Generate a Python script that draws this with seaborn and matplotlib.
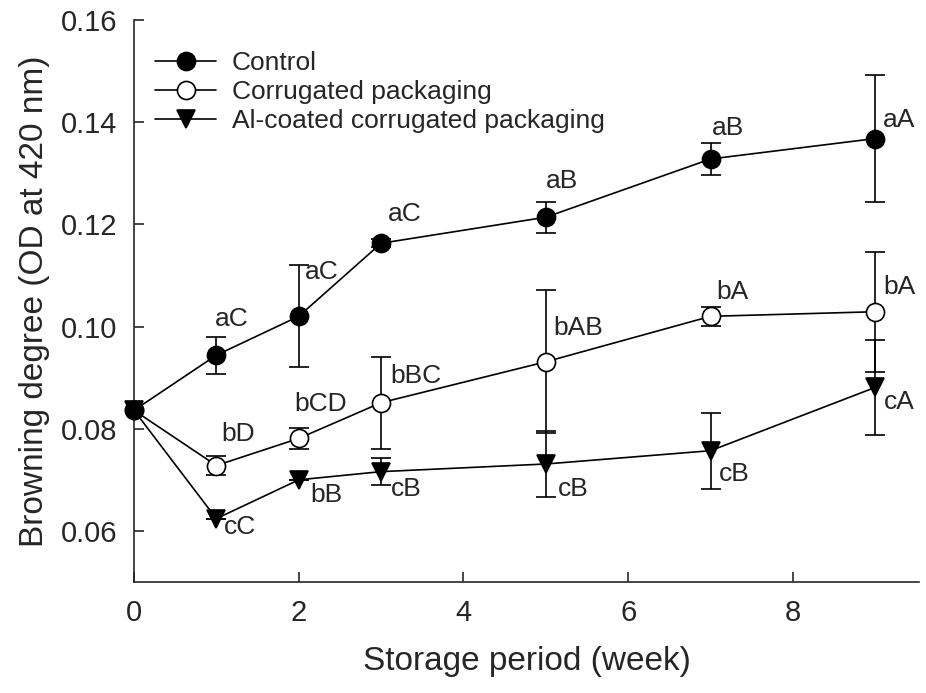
import numpy as np
import pandas as pd
import matplotlib
matplotlib.use('Agg')
import matplotlib.pyplot as plt
import seaborn as sns

# --- Data ---
weeks = [0, 1, 2, 3, 5, 7, 9]

control_mean = [0.0836, 0.0944, 0.1020, 0.1163, 0.1214, 0.1328, 0.1368]
control_err = [0.0, 0.0036, 0.0100, 0.0008, 0.0030, 0.0031, 0.0124]
control_labels = ['', 'aC', 'aC', 'aC', 'aB', 'aB', 'aA']

corr_mean = [0.0836, 0.0728, 0.0781, 0.0851, 0.0931, 0.1020, 0.1029]
corr_err = [0.0, 0.0018, 0.0021, 0.0090, 0.0140, 0.0019, 0.0117]
corr_labels = ['', 'bD', 'bCD', 'bBC', 'bAB', 'bA', 'bA']

al_mean = [0.0836, 0.0624, 0.0700, 0.0716, 0.0731, 0.0757, 0.0881]
al_err = [0.0, 0.0, 0.0, 0.0026, 0.0065, 0.0074, 0.0093]
al_labels = ['', 'cC', 'bB', 'cB', 'cB', 'cB', 'cA']

# label offsets in pixels (dx, dy) from each point
control_off = [(0, 0), (15, 36), (23, 44), (24, 29), (16, 36), (17, 31), (24, 19)]
corr_off = [(0, 0), (22, 32), (22, 34), (35, 27), (32, 34), (22, 24), (24, 25)]
al_off = [(0, 0), (24, -8), (28, -15), (25, -17), (27, -25), (24, -23), (24, -15)]

# name, values, errors, letters, offsets, marker, face colour, z-order
series = [
    ('Control', control_mean, control_err, control_labels, control_off, 'o', 'black', 5),
    ('Corrugated packaging', corr_mean, corr_err, corr_labels, corr_off, 'o', 'white', 4),
    ('Al-coated corrugated packaging', al_mean, al_err, al_labels, al_off, 'v', 'black', 3),
]

# --- Style ---
sns.set_style('ticks')
plt.rcParams['font.family'] = ['Liberation Sans', 'DejaVu Sans']
plt.rcParams['xtick.direction'] = 'in'
plt.rcParams['ytick.direction'] = 'in'

fig = plt.figure(figsize=(9.26, 6.93), dpi=100)
ax = fig.add_axes([134 / 926, 1 - 582 / 693, (919 - 134) / 926, (582 - 20) / 693])

for name, mean, err, labels, offs, marker, face, z in series:
    ax.errorbar(weeks, mean, yerr=err, fmt='none', ecolor='black',
                elinewidth=1.2, capsize=7, capthick=1.2, zorder=1)
    df = pd.DataFrame({'week': weeks, 'value': mean})
    sns.lineplot(data=df, x='week', y='value', ax=ax, color='black', linewidth=1.2,
                 marker=marker, markersize=13, markerfacecolor=face,
                 markeredgecolor='black', markeredgewidth=1.2, label=name,
                 zorder=z, clip_on=False)
    for w, m, lab, (dx, dy) in zip(weeks, mean, labels, offs):
        if lab:
            ax.annotate(lab, (w, m), xytext=(dx, dy), textcoords='offset pixels',
                        ha='center', va='center', fontsize=19)

ax.set_xlim(0, 9.53)
ax.set_ylim(0.05, 0.16)
ax.set_xticks([0, 2, 4, 6, 8])
ax.set_yticks([0.06, 0.08, 0.10, 0.12, 0.14, 0.16])
ax.set_yticklabels(['0.06', '0.08', '0.10', '0.12', '0.14', '0.16'])
ax.tick_params(labelsize=21, length=7, width=1.2, pad=12)
for s in ['left', 'bottom']:
    ax.spines[s].set_linewidth(1.2)
sns.despine(ax=ax)

ax.set_xlabel('Storage period (week)', fontsize=24, labelpad=14)
ax.set_ylabel('Browning degree (OD at 420 nm)', fontsize=24, labelpad=8)

ax.legend(loc='upper left', bbox_to_anchor=(0.027, 0.945), frameon=False,
          fontsize=19, handlelength=2.3, handletextpad=0.6, labelspacing=0.2,
          borderpad=0, borderaxespad=0)

fig.savefig('out.png', dpi=100)
